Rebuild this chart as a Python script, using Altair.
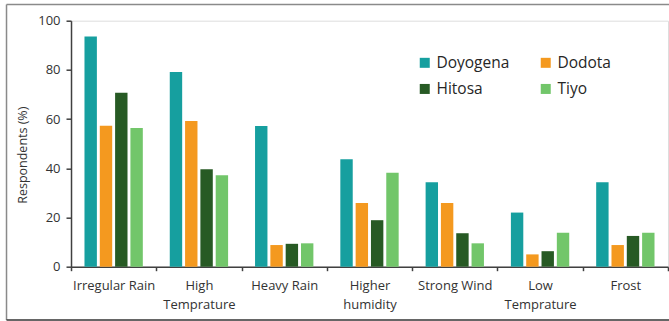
import altair as alt
import pandas as pd

# Perceived climate hazards by district (% of respondents)
categories = ["Irregular Rain", "High Temprature", "Heavy Rain", "Higher humidity",
              "Strong Wind", "Low Temprature", "Frost"]
districts = ["Doyogena", "Dodota", "Hitosa", "Tiyo"]
colors = ["#169F9F", "#F4991F", "#275A24", "#72C66A"]

doyogena = [93.6, 79.1, 57.2, 43.7, 34.3, 22.0, 34.3]
dodota = [57.3, 59.2, 8.8, 25.9, 25.9, 5.0, 8.8]
hitosa = [70.7, 39.6, 9.3, 18.9, 13.6, 6.3, 12.5]
tiyo = [56.4, 37.2, 9.5, 38.2, 9.5, 13.8, 13.8]

series = {"Doyogena": doyogena, "Dodota": dodota, "Hitosa": hitosa, "Tiyo": tiyo}
rows = []
for name, vals in series.items():
    for cat, v in zip(categories, vals):
        rows.append({"hazard": cat, "district": name, "pct": v})
df = pd.DataFrame(rows)

FONT = "Open Sans"

# two-line tick labels for the longer hazard names
label_expr = (
    "datum.label == 'High Temprature' ? ['High', 'Temprature'] : "
    "datum.label == 'Higher humidity' ? ['Higher', 'humidity'] : "
    "datum.label == 'Low Temprature' ? ['Low', 'Temprature'] : datum.label"
)

bars = alt.Chart(df).mark_bar().encode(
    x=alt.X("hazard:N", sort=categories, title=None,
            scale=alt.Scale(paddingInner=0, paddingOuter=0),
            axis=alt.Axis(labelAngle=0, labelExpr=label_expr, tickBand="extent",
                          domainColor="#404040", domainWidth=1.5,
                          tickColor="#404040", tickWidth=1.5, tickSize=4,
                          labelFont=FONT, labelFontSize=13, labelColor="#333333",
                          labelPadding=9, labelLineHeight=18.5)),
    xOffset=alt.XOffset("district:N", sort=districts,
                        scale=alt.Scale(paddingInner=0.19, paddingOuter=0.88)),
    y=alt.Y("pct:Q", title="Respondents (%)",
            scale=alt.Scale(domain=[0, 100], nice=False),
            axis=alt.Axis(values=[0, 20, 40, 60, 80, 100], grid=False,
                          domainColor="#404040", domainWidth=1.5,
                          tickColor="#404040", tickWidth=1.5, tickSize=5,
                          labelFont=FONT, labelFontSize=13, labelColor="#333333",
                          labelPadding=6,
                          titleFont=FONT, titleFontSize=12.5, titleFontWeight="normal",
                          titleColor="#333333", titleY=134, titleX=-42)),
    color=alt.Color("district:N", sort=districts,
                    scale=alt.Scale(domain=districts, range=colors),
                    legend=alt.Legend(title=None, orient="none", legendX=346, legendY=34,
                                      direction="horizontal", columns=2,
                                      columnPadding=28, rowPadding=9.5,
                                      symbolType="square", symbolSize=100,
                                      symbolStrokeWidth=0, labelOffset=4,
                                      labelFont=FONT, labelFontSize=15.5,
                                      labelColor="#262626")),
)

# outer border of the figure
frame_color = "#8a8a8a"
top = alt.Chart().mark_rule(color=frame_color, strokeWidth=1.5).encode(
    x=alt.value(-64.5), x2=alt.value(640), y=alt.value(-16.2))
left = alt.Chart().mark_rule(color=frame_color, strokeWidth=1.5).encode(
    x=alt.value(-64.5), y=alt.value(-16.2), y2=alt.value(299.3))
bottom = alt.Chart().mark_rule(color="#333333", strokeWidth=1.5).encode(
    x=alt.value(-64.5), x2=alt.value(640), y=alt.value(299.3))

chart = alt.layer(bars, top, left, bottom).properties(
    width=597, height=246,
    autosize=alt.AutoSizeParams(type="none"),
    padding={"left": 71, "top": 20.7, "right": 1, "bottom": 54},
).configure_view(stroke=None).configure(background="white")

chart.save("out.html", embed_options={"renderer": "svg", "actions": False})
